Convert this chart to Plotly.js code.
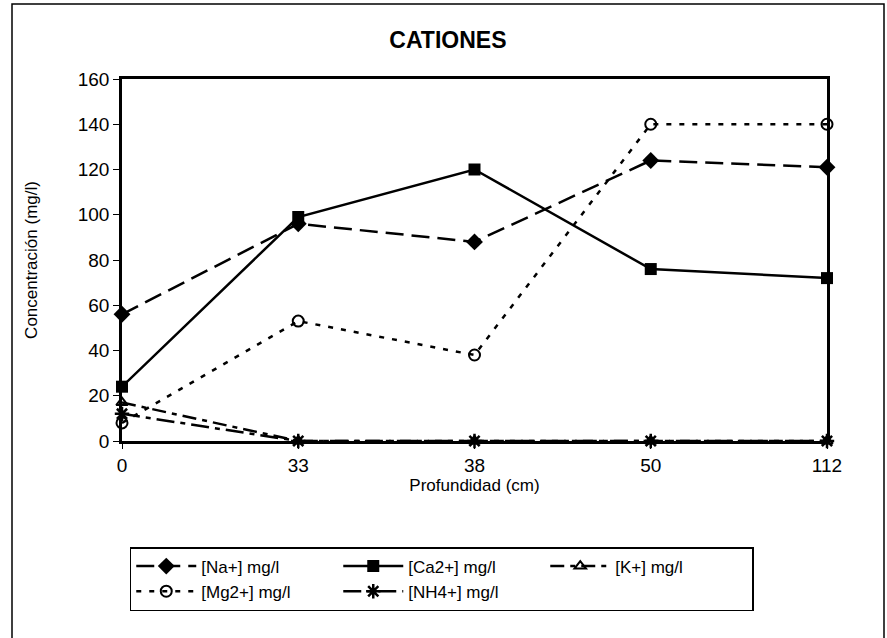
<!DOCTYPE html>
<html>
<head>
<meta charset="utf-8">
<script src="https://cdn.plot.ly/plotly-3.0.1.min.js"></script>
<style>html,body{margin:0;padding:0;background:#fff;}</style>
</head>
<body>
<div id="chart" style="width:887px;height:638px;"></div>
<script>
const depths = ["0", "33", "38", "50", "112"];
const na  = [56, 96, 88, 124, 121];
const ca  = [24, 99, 120, 76, 72];
const k   = [17, 0, 0, 0, 0];
const mg  = [8, 53, 38, 140, 140];
const nh4 = [12, 0, 0, 0, 0];

const seriesNames = ["[Na+] mg/l", "[Ca2+] mg/l", "[K+] mg/l", "[Mg2+] mg/l", "[NH4+] mg/l"];

function tr(name, y, dash, symbol, size, mlw) {
  return {
    x: depths, y: y, name: name, type: 'scatter', mode: 'lines+markers',
    cliponaxis: false,
    line: {color: '#000', width: 2.5, dash: dash},
    marker: {symbol: symbol, size: size, color: '#000', line: {color: '#000', width: mlw}}
  };
}

const data = [
  tr(seriesNames[0], na, '18px,8px', 'diamond', 13, 0),
  tr(seriesNames[1], ca, 'solid', 'square', 12, 0),
  tr(seriesNames[2], k, '14px,6px,5px,6px', 'triangle-up-open', 10, 2),
  tr(seriesNames[3], mg, '5px,8px', 'circle-open', 11, 2),
  tr(seriesNames[4], nh4, '18px,6px,5px,6px', 'asterisk-open', 12, 2.5)
];

const layout = {
  width: 887, height: 638,
  margin: {l: 122, r: 60, t: 79, b: 197},
  paper_bgcolor: '#fff', plot_bgcolor: '#fff',
  font: {family: 'Liberation Sans, Arial, sans-serif', color: '#000', size: 19},
  title: {text: '<b>CATIONES</b>', font: {size: 23, color: '#000'}, xref: 'container', x: 0.505, y: 0.937, yanchor: 'middle'},
  xaxis: {
    type: 'category', range: [0, 4],
    showline: true, linecolor: '#000', linewidth: 2.5, mirror: true,
    showgrid: false, zeroline: false,
    ticks: 'outside', ticklen: 5, tickcolor: '#000',
    tickfont: {size: 19},
    title: {text: 'Profundidad (cm)', font: {size: 17}, standoff: 3}
  },
  yaxis: {
    range: [0, 160], dtick: 20,
    showline: true, linecolor: '#000', linewidth: 2.5, mirror: true,
    showgrid: false, zeroline: false,
    ticks: 'outside', ticklen: 6, tickcolor: '#000',
    tickfont: {size: 19},
    title: {text: 'Concentración (mg/l)', font: {size: 17}, standoff: 36}
  },
  showlegend: true,
  legend: {
    orientation: 'h', x: 0.011, xanchor: 'left', y: -0.293, yanchor: 'top',
    bordercolor: '#000', borderwidth: 1.5, bgcolor: '#fff',
    font: {size: 17}, entrywidth: 132, entrywidthmode: 'pixels',
    tracegroupgap: 0, itemwidth: 60
  },
  shapes: [{
    type: 'rect', xref: 'paper', yref: 'paper',
    x0: (12 - 122) / 705, x1: (884 - 122) / 705,
    y0: (441 - 640) / 362, y1: (441 - 4) / 362,
    line: {color: '#000', width: 1.5}, fillcolor: 'rgba(0,0,0,0)', layer: 'below'
  }]
};

Plotly.newPlot('chart', data, layout, {displayModeBar: false, responsive: false});
</script>
</body>
</html>
